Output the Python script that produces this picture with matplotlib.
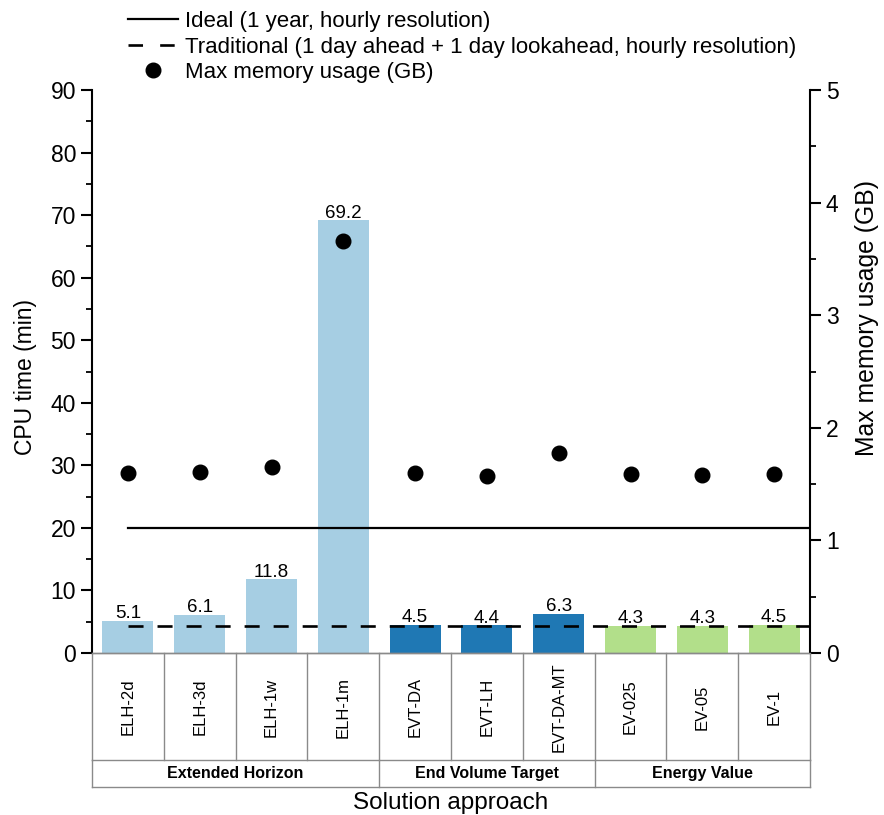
import matplotlib
matplotlib.use("Agg")
import matplotlib.pyplot as plt
import matplotlib.transforms as mtransforms
from matplotlib.ticker import MultipleLocator
from matplotlib.lines import Line2D

plt.rcParams['font.family'] = ['Liberation Sans', 'DejaVu Sans']

categories = ["ELH-2d", "ELH-3d", "ELH-1w", "ELH-1m", "EVT-DA", "EVT-LH",
              "EVT-DA-MT", "EV-025", "EV-05", "EV-1"]
cpu_time = [5.1, 6.1, 11.8, 69.2, 4.5, 4.4, 6.3, 4.3, 4.3, 4.5]
memory_gb = [1.60, 1.61, 1.65, 3.66, 1.60, 1.575, 1.78, 1.59, 1.58, 1.59]
groups = ["Extended Horizon", "End Volume Target", "Energy Value"]
group_sizes = [4, 3, 3]
group_colors = ["#a6cee3", "#1f78b4", "#b2df8a"]
ideal_value = 20.0
traditional_value = 4.3

bar_colors = []
for c, n in zip(group_colors, group_sizes):
    bar_colors += [c] * n

fig = plt.figure(figsize=(8.84, 8.15), dpi=100)
ax = fig.add_axes([92/884, 1-653/815, (810-92)/884, (653-90)/815])
ax2 = ax.twinx()

x = list(range(len(categories)))
bars = ax.bar(x, cpu_time, width=0.71, color=bar_colors, edgecolor='none', zorder=1)
ax.bar_label(bars, labels=[f"{v:.1f}" for v in cpu_time], padding=-1, fontsize=13.5)

ax.plot([0, len(categories)-0.5], [ideal_value]*2, color='black', lw=1.6, zorder=3)
ax.plot([0, len(categories)-0.5], [traditional_value]*2, color='black', lw=1.9,
        dashes=(5.7, 5.3), zorder=3)

ax2.plot(x, memory_gb, 'o', color='black', ms=10.5, zorder=4)

ax.set_xlim(-0.5, len(categories)-0.5)
ax.set_ylim(0, 90)
ax2.set_ylim(0, 5)
ax.yaxis.set_major_locator(MultipleLocator(10))
ax.yaxis.set_minor_locator(MultipleLocator(5))
ax2.yaxis.set_major_locator(MultipleLocator(1))
ax2.yaxis.set_minor_locator(MultipleLocator(0.5))

for a in (ax, ax2):
    a.spines['top'].set_visible(False)
    a.spines['bottom'].set_color('#8a8a8a')
    a.spines['bottom'].set_linewidth(1.0)
    a.set_xticks([])
ax.spines['left'].set_linewidth(1.5)
ax2.spines['right'].set_linewidth(1.5)
ax2.spines['left'].set_visible(False)
ax.spines['right'].set_visible(False)
ax.tick_params(axis='y', which='major', length=8, width=1.5, labelsize=16.5, direction='out')
ax.tick_params(axis='y', which='minor', length=4.5, width=1.3, direction='out')
ax2.tick_params(axis='y', which='major', length=8, width=1.5, labelsize=16.5, direction='out')
ax2.tick_params(axis='y', which='minor', length=4.5, width=1.3, direction='out')

ax.set_ylabel("CPU time (min)", fontsize=16.5)
ax.yaxis.set_label_coords(-(92-37)/718, (653-377)/563)
ax2.set_ylabel("Max memory usage (GB)", fontsize=17.8)
ax2.yaxis.set_label_coords(1+(855-810)/718, (653-318)/563)

# category table below axes
trans = mtransforms.blended_transform_factory(ax.transData, ax.transAxes)
row1 = -(760-653)/563
row2 = -(787-653)/563
gcol = '#8a8a8a'
n = len(categories)
for i in range(n + 1):
    xb = i - 0.5
    ax.plot([xb, xb], [0, row1], color=gcol, lw=1.0, transform=trans, clip_on=False)
ax.plot([-0.5, n-0.5], [row1, row1], color=gcol, lw=1.0, transform=trans, clip_on=False)
ax.plot([-0.5, n-0.5], [row2, row2], color=gcol, lw=1.0, transform=trans, clip_on=False)
start = 0
bounds = [start]
for s in group_sizes:
    start += s
    bounds.append(start)
for b in bounds:
    ax.plot([b-0.5, b-0.5], [row1, row2], color=gcol, lw=1.0, transform=trans, clip_on=False)
for i, cat in enumerate(categories):
    ax.text(i, -(707-653)/563, cat, rotation=90, ha='center', va='center',
            fontsize=12, transform=trans)
for g, a0, a1 in zip(groups, bounds[:-1], bounds[1:]):
    ax.text((a0 + a1 - 1)/2, (row1 + row2)/2, g, ha='center', va='center',
            fontsize=11.5, fontweight='bold', transform=trans)
ax.text((n-1)/2, -(803-653)/563, "Solution approach", ha='center', va='center',
        fontsize=17.5, transform=trans)

handles = [Line2D([], [], color='black', lw=1.6),
           Line2D([], [], color='black', lw=1.9, dashes=(5.5, 6.5)),
           Line2D([], [], color='black', marker='o', ls='none', ms=10.5)]
labels = ["Ideal (1 year, hourly resolution)",
          "Traditional (1 day ahead + 1 day lookahead, hourly resolution)",
          "Max memory usage (GB)"]
fig.legend(handles, labels, loc='upper left', bbox_to_anchor=(117/884, 1.0),
           frameon=False, fontsize=16, handlelength=2.25, handletextpad=0.3,
           labelspacing=0.2, borderpad=0.0)

fig.savefig("out.png", dpi=100)
